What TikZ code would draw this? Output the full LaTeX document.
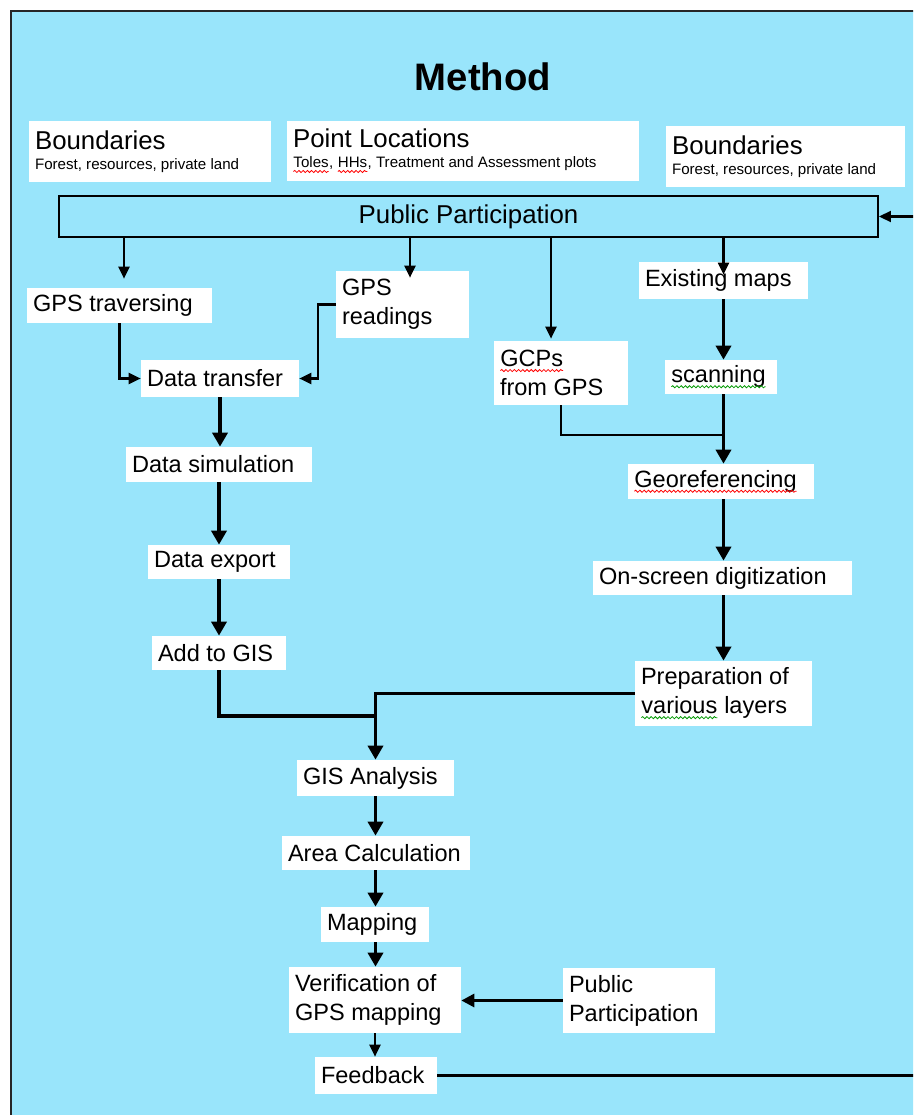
\documentclass[tikz,border=0pt]{standalone}
\usepackage{fontspec}
\setmainfont{Liberation Sans}
\usetikzlibrary{arrows.meta,decorations.pathmorphing}
\definecolor{skyfill}{RGB}{153,229,251}
\newcommand{\boxfont}{\fontsize{13.4pt}{16.4pt}\selectfont}
\newcommand{\headfont}{\fontsize{14.7pt}{11.3pt}\selectfont}
\newcommand{\subfont}{\fontsize{8.6pt}{11.3pt}\selectfont\spaceskip=0pt\xspaceskip=0pt\relax}
\newcommand{\titlefont}{\fontsize{21.8pt}{26pt}\selectfont\bfseries}
\newcommand{\spellmark}[2]{\tikz[baseline=(w.base)]{\node[inner sep=0pt,outer sep=0pt,draw=none,fill=none,text width={},minimum width=0pt,minimum height=0pt,font={}](w){#2};\draw[#1,fill=none,line width=0.45pt,decorate,decoration={snake,amplitude=0.6pt,segment length=2.4pt}]([yshift=-2.2pt]w.base west)--([yshift=-2.2pt]w.base east);}}
\tikzset{
stepbox/.style={fill=white,inner xsep=0.12cm,inner ysep=0pt,align=flush left,font=\boxfont,execute at begin node={\spaceskip=0pt\xspaceskip=0pt\relax}},
headbox/.style={stepbox,font=\headfont},
thinline/.style={line width=1.2pt},
thickline/.style={line width=2.2pt},
thinarrow/.style={thinline,-{Triangle[length=0.24cm,width=0.22cm]}},
midarrow/.style={line width=1.7pt,-{Triangle[length=0.26cm,width=0.26cm]}},
thickarrow/.style={thickline,-{Triangle[length=0.28cm,width=0.3cm]}}
}
\begin{document}
\begin{tikzpicture}[x=0.02cm,y=-0.02cm]
\useasboundingbox (0,0) rectangle (913,1115);
\clip (0,0) rectangle (913,1115);
\fill[white] (0,0) rectangle (913,1115);
\fill[skyfill] (11,11) rectangle (1400,1400);
\draw[line width=1.2pt,draw=black!85] (11,1400) -- (11,11) -- (1400,11);
\node[font=\titlefont] (title) at (483,77) {Method};
\node[headbox,text width=4.60cm,minimum height=1.22cm] (bndA) at (150,151.5) {Boundaries\\{\subfont Forest, resources, private land}};
\node[headbox,text width=6.80cm,minimum height=1.20cm] (ptloc) at (463,151) {Point Locations\\{\subfont \spellmark{red}{Toles}, \spellmark{red}{HHs}, Treatment and Assessment plots}};
\node[headbox,text width=4.54cm,minimum height=1.22cm] (bndB) at (785.5,156.5) {Boundaries\\{\subfont Forest, resources, private land}};
\node[draw,line width=1.2pt,fill=none,inner sep=0pt,minimum width=16.38cm,minimum height=0.82cm,font=\headfont] (pp) at (468.5,216.5) {Public Participation};
\node[stepbox,text width=3.46cm,minimum height=0.70cm] (gpstrav) at (119.5,305.5) {GPS traversing};
\node[stepbox,text width=2.42cm,minimum height=1.34cm] (gpsread) at (402.5,304.5) {GPS\\readings};
\node[stepbox,text width=2.44cm,minimum height=1.28cm] (gcps) at (561,373) {\spellmark{red}{GCPs}\\from GPS};
\node[stepbox,text width=3.14cm,minimum height=0.74cm] (exmaps) at (723.5,280.5) {Existing maps};
\node[stepbox,text width=2.00cm,minimum height=0.68cm] (scan) at (721,377) {\spellmark{green!60!black}{scanning}};
\node[stepbox,text width=2.92cm,minimum height=0.74cm] (dtrans) at (220,378.5) {Data transfer};
\node[stepbox,text width=3.48cm,minimum height=0.70cm] (georef) at (721,481.5) {\spellmark{red}{Georeferencing}};
\node[stepbox,text width=3.48cm,minimum height=0.70cm] (dsim) at (219,464.5) {Data simulation};
\node[stepbox,text width=2.60cm,minimum height=0.68cm] (dexport) at (219,562) {Data export};
\node[stepbox,text width=2.44cm,minimum height=0.68cm] (addgis) at (219,653) {Add to GIS};
\node[stepbox,text width=4.94cm,minimum height=0.68cm] (onscreen) at (722.5,578) {On-screen digitization};
\node[stepbox,text width=3.30cm,minimum height=1.30cm] (prep) at (723.5,693.5) {Preparation of\\\spellmark{green!60!black}{various} layers};
\node[stepbox,text width=2.90cm,minimum height=0.72cm] (gisan) at (375.5,778) {GIS Analysis};
\node[stepbox,text width=3.52cm,minimum height=0.68cm] (areacalc) at (376,853) {Area Calculation};
\node[stepbox,text width=1.92cm,minimum height=0.70cm] (mapping) at (375,924.5) {Mapping};
\node[stepbox,text width=3.20cm,minimum height=1.32cm] (verif) at (375,1000) {Verification of\\GPS mapping};
\node[stepbox,text width=2.80cm,minimum height=1.30cm] (pp2) at (639,1000.5) {Public\\Participation};
\node[stepbox,text width=2.20cm,minimum height=0.74cm] (feedback) at (376,1075.5) {Feedback};
\draw[thinarrow] ([xshift=0.09cm]pp.south -| gpstrav.north) -- ([xshift=0.09cm,yshift=0.18cm]gpstrav.north);
\draw[thinarrow] ([xshift=0.15cm]pp.south -| gpsread.north) -- ([xshift=0.15cm,yshift=-0.14cm]gpsread.north);
\draw[thinarrow] ([xshift=-0.2cm]pp.south -| gcps.north) -- ([xshift=-0.2cm,yshift=0.04cm]gcps.north);
\draw[thinarrow] (pp.south -| exmaps.north) -- ([yshift=-0.26cm]exmaps.north);
\draw[thinarrow] (gpstrav.south) |- (dtrans.west);
\draw[thinarrow] (gpsread.west) -- ++(-18,0) |- (dtrans.east);
\draw[thickarrow] (dtrans.south) -- (dtrans.south |- dsim.north);
\draw[thickarrow] (dsim.south) -- (dsim.south |- dexport.north);
\draw[thickarrow] (dexport.south) -- (dexport.south |- addgis.north);
\draw[thickarrow] (exmaps.south) -- (exmaps.south |- scan.north);
\draw[thickarrow] (exmaps.south |- scan.south) -- (exmaps.south |- georef.north);
\coordinate (gcpjoin) at (723.5,435);
\draw[thinline] (gcps.south) |- (gcpjoin);
\draw[thickarrow] (exmaps.south |- georef.south) -- (exmaps.south |- onscreen.north);
\draw[thickarrow] (exmaps.south |- onscreen.south) -- (prep.north);
\coordinate (gisjoin) at (375.5,716);
\draw[thickline] (addgis.south) |- (gisjoin);
\draw[thickarrow] (prep.west) -| (gisan.north);
\draw[thickarrow] (gisan.south) -- (gisan.south |- areacalc.north);
\draw[thickarrow] (gisan.south |- areacalc.south) -- (gisan.south |- mapping.north);
\draw[thickarrow] (gisan.south |- mapping.south) -- (gisan.south |- verif.north);
\draw[midarrow] (pp2.west) -- (pp2.west -| verif.east);
\draw[thinarrow] (verif.south) -- (verif.south |- feedback.north);
\draw[thinarrow] (feedback.east) -- ++(700,0) |- (pp.east);
\end{tikzpicture}
\end{document}
